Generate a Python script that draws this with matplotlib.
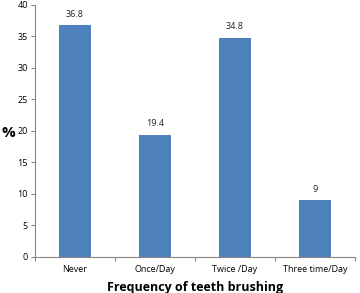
import numpy as np
import matplotlib.pyplot as plt

categories = ['Never', 'Once/Day', 'Twice /Day', 'Three time/Day']
values = [36.8, 19.4, 34.8, 9]
labels = ['36.8', '19.4', '34.8', '9']

plt.rcParams['font.family'] = ['Open Sans', 'DejaVu Sans']
AX = '#868686'

fig = plt.figure(figsize=(3.6, 2.93), dpi=100)
ax = fig.add_axes([0.097, 0.123, 0.889, 0.86])

x = np.arange(len(categories))
ax.bar(x, values, width=0.4, color='#4F81BD', zorder=2)
for xi, v, t in zip(x, values, labels):
    ax.text(xi, v + 1.0, t, ha='center', va='bottom', fontsize=6.5, color='#222222')

ax.set_xlim(-0.5, len(categories) - 0.5)
ax.set_ylim(0, 40)
ax.set_yticks(range(0, 41, 5))
ax.set_xticks(np.arange(-0.5, len(categories), 1.0))
ax.set_xticklabels([])
ax.set_xticks(x, minor=True)
ax.set_xticklabels(categories, minor=True)
ax.tick_params(axis='x', which='minor', length=0, labelsize=6.5, pad=6)
ax.tick_params(axis='x', which='major', length=3, color=AX)
ax.tick_params(axis='y', length=3, color=AX, labelsize=6.5, pad=2)

for s in ['top', 'right']:
    ax.spines[s].set_visible(False)
for s in ['left', 'bottom']:
    ax.spines[s].set_color(AX)
    ax.spines[s].set_linewidth(0.8)

ax.set_xlabel('Frequency of teeth brushing', fontsize=9, fontweight='bold', labelpad=5)
fig.text(0.005, 0.545, '%', fontsize=11, fontweight='bold', ha='left', va='center')

fig.savefig('out.png', dpi=100)
